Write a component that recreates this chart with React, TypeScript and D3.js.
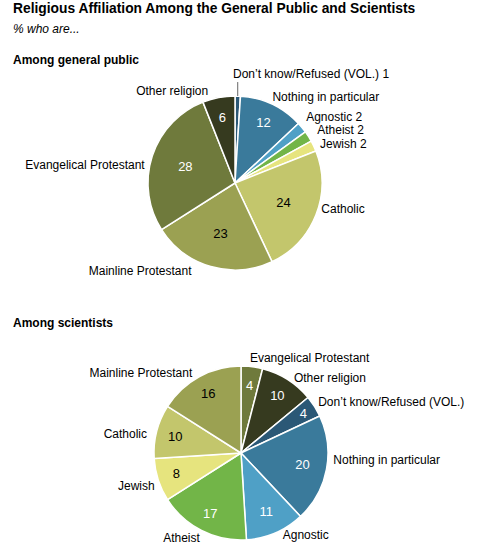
import React from "react";
import * as d3 from "d3";

const title = "Religious Affiliation Among the General Public and Scientists";
const subtitle = "% who are...";

const publicTitle = "Among general public";
const publicCategories = [
  "Don’t know/Refused (VOL.)",
  "Nothing in particular",
  "Agnostic",
  "Atheist",
  "Jewish",
  "Catholic",
  "Mainline Protestant",
  "Evangelical Protestant",
  "Other religion",
];
const publicValues = [1, 12, 2, 2, 2, 24, 23, 28, 6];

const scientistTitle = "Among scientists";
const scientistCategories = [
  "Evangelical Protestant",
  "Other religion",
  "Don’t know/Refused (VOL.)",
  "Nothing in particular",
  "Agnostic",
  "Atheist",
  "Jewish",
  "Catholic",
  "Mainline Protestant",
];
const scientistValues = [4, 10, 4, 20, 11, 17, 8, 10, 16];

const colorMap: Record<string, string> = {
  "Don’t know/Refused (VOL.)": "#2b5876",
  "Nothing in particular": "#3a7a9b",
  Agnostic: "#4fa0c6",
  Atheist: "#72b548",
  Jewish: "#e6e47e",
  Catholic: "#c3c66c",
  "Mainline Protestant": "#9ba152",
  "Evangelical Protestant": "#6f7a3c",
  "Other religion": "#363a1f",
};
const darkText = new Set(["Jewish", "Catholic", "Mainline Protestant"]);

// label nudges (layout only)
const publicNudge: Record<string, [number, number]> = {
  "Don’t know/Refused (VOL.)": [-5, -14],
  "Nothing in particular": [-3, 0],
  Agnostic: [-2, -5],
  Atheist: [2, -2],
  Jewish: [-1, 1],
  Catholic: [-2, -9],
  "Mainline Protestant": [-17, -3],
  "Evangelical Protestant": [0, 11],
  "Other religion": [-9, 1],
};
const scientistNudge: Record<string, [number, number]> = {
  "Evangelical Protestant": [-3, -1],
  "Other religion": [2, 5],
  "Don’t know/Refused (VOL.)": [-3, 0],
  "Nothing in particular": [-1, -11],
  Agnostic: [4, -5],
  Atheist: [2, 0],
  Jewish: [4, 4],
  Catholic: [-2, 5],
  "Mainline Protestant": [-3, 3],
};

const FONT = "'Liberation Sans', Arial, Helvetica, sans-serif";

type PieProps = {
  cx: number;
  cy: number;
  r: number;
  categories: string[];
  values: number[];
  nudge: Record<string, [number, number]>;
  outsideThreshold: number;
  innerFrac: (v: number, c: string) => number;
  leaderFor?: string;
};

function Pie({ cx, cy, r, categories, values, nudge, outsideThreshold, innerFrac, leaderFor }: PieProps) {
  const data = categories.map((c, i) => ({ category: c, value: values[i] }));
  const arcs = d3
    .pie<{ category: string; value: number }>()
    .sort(null)
    .value((d) => d.value)(data);
  const arcGen = d3
    .arc<d3.PieArcDatum<{ category: string; value: number }>>()
    .innerRadius(0)
    .outerRadius(r);
  const R = r + 8;
  return (
    <g transform={`translate(${cx},${cy})`}>
      {arcs.map((a, i) => (
        <path
          key={i}
          d={arcGen(a) || ""}
          fill={colorMap[a.data.category]}
          stroke="#ffffff"
          strokeWidth={1.5}
          strokeLinejoin="round"
        />
      ))}
      {arcs.map((a, i) => {
        const mid = (a.startAngle + a.endAngle) / 2;
        const s = Math.sin(mid);
        const c = Math.cos(mid);
        const [dx, dy] = nudge[a.data.category] || [0, 0];
        const x = R * s + dx;
        const y = -R * c + 4 + dy;
        const outside = a.data.value < outsideThreshold;
        const label = outside ? `${a.data.category} ${a.data.value}` : a.data.category;
        const isLeader = leaderFor === a.data.category;
        return (
          <g key={`l${i}`}>
            {isLeader && (
              <line
                x1={r * s}
                x2={r * s}
                y1={-r * c}
                y2={y + 4}
                stroke="#666"
                strokeWidth={1}
              />
            )}
            <text
              x={x}
              y={y}
              textAnchor={s >= 0 ? "start" : "end"}
              fontFamily={FONT}
              fontSize={12}
              fill="#000"
            >
              {label}
            </text>
          </g>
        );
      })}
      {arcs.map((a, i) => {
        if (a.data.value < outsideThreshold) return null;
        const mid = (a.startAngle + a.endAngle) / 2;
        const rr = r * innerFrac(a.data.value, a.data.category);
        return (
          <text
            key={`v${i}`}
            x={rr * Math.sin(mid)}
            y={-rr * Math.cos(mid) + 4.5}
            textAnchor="middle"
            fontFamily={FONT}
            fontSize={13}
            fill={darkText.has(a.data.category) ? "#000" : "#fff"}
          >
            {a.data.value}
          </text>
        );
      })}
    </g>
  );
}

export default function App() {
  return (
    <svg
      width={482}
      height={553}
      style={{ position: "absolute", left: 0, top: 0, background: "#fff" }}
    >
      <rect width={482} height={553} fill="#fff" />
      <text x={13} y={13} fontFamily={FONT} fontWeight="bold" fontSize={13.8} fill="#000">
        {title}
      </text>
      <text x={13} y={33} fontFamily={FONT} fontStyle="italic" fontSize={12} fill="#000">
        {subtitle}
      </text>
      <text x={13} y={64} fontFamily={FONT} fontWeight="bold" fontSize={12} fill="#000">
        {publicTitle}
      </text>
      <text x={13} y={327} fontFamily={FONT} fontWeight="bold" fontSize={12} fill="#000">
        {scientistTitle}
      </text>
      <Pie
        cx={235}
        cy={183}
        r={87}
        categories={publicCategories}
        values={publicValues}
        nudge={publicNudge}
        outsideThreshold={3}
        innerFrac={(v) => (v >= 20 ? 0.6 : 0.77)}
        leaderFor="Don’t know/Refused (VOL.)"
      />
      <Pie
        cx={241}
        cy={453}
        r={87}
        categories={scientistCategories}
        values={scientistValues}
        nudge={scientistNudge}
        outsideThreshold={3}
        innerFrac={(v, c) =>
          c === "Don’t know/Refused (VOL.)" ? 0.85 : v >= 20 ? 0.72 : v === 11 ? 0.73 : 0.78
        }
      />
    </svg>
  );
}
